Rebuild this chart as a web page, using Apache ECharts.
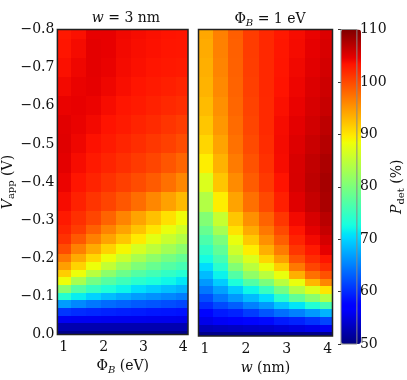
<!DOCTYPE html>
<html>
<head>
<meta charset="utf-8">
<script src="https://cdn.jsdelivr.net/npm/echarts@6/dist/echarts.min.js"></script>
<style>
html, body { margin: 0; padding: 0; background: #fff; }
#chart { width: 407px; height: 380px; }
</style>
</head>
<body>
<div id="chart"></div>
<script>
// grid rows: applied voltage (V), shared by both panels
var vRows = [0, -0.02, -0.04, -0.06, -0.08, -0.1, -0.12, -0.14, -0.16, -0.18, -0.2, -0.225,
    -0.25, -0.275, -0.3, -0.35, -0.4, -0.45, -0.5, -0.55, -0.6, -0.65, -0.7, -0.75, -0.8];
// grid columns
var phiCols = [1, 1.375, 1.75, 2.125, 2.5, 2.875, 3.25, 3.625, 4];   // Phi_B (eV), w = 3 nm
var wCols = [1, 1.375, 1.75, 2.125, 2.5, 2.875, 3.25, 3.625, 4];     // w (nm), Phi_B = 1 eV

// P_det (%) - one row per vRows entry, one value per column
var pPhi = [
    [50.5, 50.5, 50.5, 50.5, 50.5, 50.5, 50.5, 50.5, 50.5],
    [52.5, 52.5, 52.5, 52.5, 52.5, 52.5, 52.5, 52.5, 52.5],
    [56, 55.9, 55.9, 55.8, 55.7, 55.7, 55.6, 55.6, 55.5],
    [60.6, 60.1, 59.8, 59.5, 59.3, 59.1, 58.8, 58.7, 58.5],
    [66.7, 65.5, 64.5, 63.8, 63.3, 62.8, 62.4, 62, 61.6],
    [73.7, 71.5, 69.9, 68.6, 67.6, 66.7, 66, 65.4, 64.8],
    [80.9, 77.1, 74.8, 73.2, 71.9, 70.6, 69.6, 68.8, 68],
    [88.3, 83.2, 79.5, 77.2, 75.4, 74, 73, 72.1, 71.1],
    [91.5, 88.3, 84.4, 81.3, 78.9, 77.1, 75.8, 74.6, 73.6],
    [94.5, 91.2, 88.3, 85.2, 82.5, 80.2, 78.5, 77.1, 76],
    [97, 93.8, 90.9, 88.3, 85.7, 83.3, 81.3, 79.6, 78.3],
    [99.8, 96.5, 93.8, 91.3, 88.9, 86.6, 84.7, 82.8, 81.1],
    [101.5, 99, 96.5, 94.3, 92, 89.7, 87.6, 85.6, 84],
    [102.4, 100.8, 98.5, 96.3, 94.3, 92.2, 90.1, 88, 86.2],
    [103, 101.6, 100.2, 98.3, 96.2, 94.3, 92.4, 90.4, 88.5],
    [103.8, 102.5, 101.3, 100.3, 99.1, 97.7, 96, 94.4, 92.8],
    [104.4, 103.3, 102.4, 101.4, 100.6, 99.8, 98.8, 97.5, 96],
    [104.8, 103.8, 103, 102.3, 101.6, 100.9, 100.2, 99.2, 98.2],
    [105, 104.2, 103.5, 102.9, 102.3, 101.7, 101.1, 100.5, 99.8],
    [104.9, 104.5, 104, 103.4, 102.9, 102.4, 101.9, 101.3, 100.8],
    [104.5, 104.6, 104.4, 103.8, 103.3, 102.9, 102.5, 102.1, 101.7],
    [104, 104.5, 104.7, 104.2, 103.7, 103.3, 102.9, 102.6, 102.3],
    [103.6, 104.2, 104.8, 104.5, 103.9, 103.6, 103.3, 103.1, 102.9],
    [103.3, 103.9, 104.8, 104.6, 104, 103.7, 103.5, 103.3, 103.2],
    [103.1, 103.6, 104.6, 104.6, 104.1, 103.8, 103.6, 103.4, 103.3]
];
var pW = [
    [50.5, 50.5, 50.5, 50.5, 50.5, 50.5, 50.5, 50.5, 50.5],
    [53, 53.3, 53.5, 53.8, 54, 54.5, 55, 55.5, 56],
    [55.5, 56.2, 56.5, 57.5, 58, 59, 59.5, 60.5, 61.5],
    [57.5, 59, 59.5, 61, 62.5, 64, 65, 66.5, 68],
    [60, 61.8, 63, 65, 66.5, 69, 71, 73.5, 76],
    [62, 64.5, 66.5, 68.5, 70.5, 74, 78, 81, 84],
    [64.5, 67, 69.5, 72, 75, 79.5, 84, 87, 90],
    [66.5, 69.5, 73, 77, 80, 84.5, 88, 93, 96],
    [68.5, 71.8, 77, 81.5, 84.5, 88, 93.5, 97.5, 99.5],
    [70.5, 74, 80.5, 84.5, 88, 91.5, 97, 100.2, 101.8],
    [72.5, 76, 83.5, 87, 91, 94.5, 99.5, 101.8, 103.3],
    [74.5, 78, 86, 89.5, 93.5, 96.8, 101.2, 103, 104.7],
    [76.5, 80, 88, 91.8, 95.5, 98.6, 102.4, 104, 105.6],
    [78.5, 83, 90.2, 93.8, 97, 100, 103.3, 104.8, 106.4],
    [80.5, 85.5, 92, 95.5, 98.3, 101.2, 104, 105.5, 107],
    [84, 89.5, 94.3, 97.5, 100, 102.6, 105, 106.4, 107.8],
    [87, 92, 95.8, 98.7, 101, 103.4, 105.5, 106.8, 108],
    [89.5, 93.3, 96.8, 99.4, 101.5, 103.8, 105.4, 106.6, 107.7],
    [91, 94.3, 97.4, 99.9, 101.8, 103.9, 105.1, 106.2, 107.2],
    [92, 95, 97.8, 100.2, 102, 103.8, 104.8, 105.8, 106.8],
    [92.7, 95.5, 98.1, 100.4, 102, 103.6, 104.5, 105.5, 106.3],
    [93.2, 95.9, 98.3, 100.6, 102.1, 103.4, 104.3, 105.2, 106],
    [93.5, 96.2, 98.4, 100.7, 102.1, 103.3, 104.1, 104.9, 105.7],
    [93.7, 96.4, 98.5, 100.8, 102.1, 103.2, 103.9, 104.7, 105.4],
    [94, 96.5, 98.6, 100.8, 102.1, 103.1, 103.8, 104.5, 105.2]
];

var xTicks = [1, 2, 3, 4];
var vTicks = [0, -0.1, -0.2, -0.3, -0.4, -0.5, -0.6, -0.7, -0.8];
var cbarTicks = [50, 60, 70, 80, 90, 100, 110];

var FONT = 'DejaVu Serif';
var xMin = 0.84, xMax = 4.12, vMin = -0.8, vMax = 0;

// matplotlib "jet"
function jetColors(n) {
    function seg(p, t) {
        for (var k = 1; k < p.length; k++) {
            if (t <= p[k][0]) {
                var f = (t - p[k - 1][0]) / (p[k][0] - p[k - 1][0]);
                return p[k - 1][1] + f * (p[k][1] - p[k - 1][1]);
            }
        }
        return p[p.length - 1][1];
    }
    var R = [[0, 0], [0.35, 0], [0.66, 1], [0.89, 1], [1, 0.5]];
    var G = [[0, 0], [0.125, 0], [0.375, 1], [0.64, 1], [0.91, 0], [1, 0]];
    var B = [[0, 0.5], [0.11, 1], [0.34, 1], [0.65, 0], [1, 0]];
    var out = [];
    for (var i = 0; i < n; i++) {
        var t = i / (n - 1);
        out.push('rgb(' + Math.round(seg(R, t) * 255) + ',' + Math.round(seg(G, t) * 255) + ',' + Math.round(seg(B, t) * 255) + ')');
    }
    return out;
}

// cell borders halfway between grid points, outer ones at the axis limits
function edges(c, lo, hi) {
    var e = [lo];
    for (var i = 1; i < c.length; i++) e.push((c[i - 1] + c[i]) / 2);
    e.push(hi);
    return e;
}

function cellSeries(idx, cols, vals) {
    var xe = edges(cols, xMin, xMax);
    var ye = edges(vRows, vMax, vMin);
    var data = [];
    for (var i = 0; i < vRows.length; i++) {
        for (var j = 0; j < cols.length; j++) {
            data.push([cols[j], vRows[i], vals[i][j], j, i]);
        }
    }
    return {
        type: 'custom',
        xAxisIndex: idx,
        yAxisIndex: idx,
        data: data,
        encode: { x: 0, y: 1 },
        clip: true,
        silent: true,
        renderItem: function (params, api) {
            var j = api.value(3), i = api.value(4);
            var p0 = api.coord([xe[j], ye[i]]);
            var p1 = api.coord([xe[j + 1], ye[i + 1]]);
            var x0 = Math.round(Math.min(p0[0], p1[0])), x1 = Math.round(Math.max(p0[0], p1[0]));
            var y0 = Math.round(Math.min(p0[1], p1[1])), y1 = Math.round(Math.max(p0[1], p1[1]));
            return {
                type: 'rect',
                shape: { x: x0, y: y0, width: x1 - x0, height: y1 - y0 },
                style: { fill: api.visual('color'), stroke: null }
            };
        }
    };
}

var rich = {
    i: { fontFamily: FONT, fontSize: 14, fontStyle: 'italic', color: '#111' },
    s: { fontFamily: FONT, fontSize: 10, color: '#111', padding: [7, 0, 0, 0] },
    si: { fontFamily: FONT, fontSize: 10, fontStyle: 'italic', color: '#111', padding: [7, 0, 0, 0] },
    n: { fontFamily: FONT, fontSize: 14, color: '#111' }
};
var labelStyle = { fontFamily: FONT, fontSize: 14, color: '#111' };

function minus(v) { return String(v).replace('-', '\u2212'); }

var chart = echarts.init(document.getElementById('chart'));
var gridPos = { top: 29.5, height: 314.5 };

var option = {
    backgroundColor: '#fff',
    animation: false,
    title: [
        { text: '{i|w}{n| = 3 nm}', left: 121, top: 6, textAlign: 'center',
          textStyle: { fontWeight: 'normal', rich: rich } },
        { text: '{n|\u03A6}{si|B}{n| = 1 eV}', left: 265, top: 6, textAlign: 'center',
          textStyle: { fontWeight: 'normal', rich: rich } }
    ],
    grid: [
        { left: 54, width: 134, top: gridPos.top, height: gridPos.height, show: true, z: 3, borderColor: '#222', borderWidth: 1.5, backgroundColor: 'transparent' },
        { left: 198.5, width: 134, top: gridPos.top, height: gridPos.height, show: true, z: 3, borderColor: '#222', borderWidth: 1.5, backgroundColor: 'transparent' },
        { left: 341, width: 20, top: gridPos.top, height: gridPos.height, show: true, z: 3, borderColor: '#888', borderWidth: 1, backgroundColor: 'transparent' }
    ],
    xAxis: [
        { gridIndex: 0, type: 'value', min: xMin, max: xMax,
          axisLine: { show: false }, axisTick: { show: false }, splitLine: { show: false },
          axisLabel: Object.assign({ margin: 6, customValues: xTicks }, labelStyle),
          name: '{n|\u03A6}{si|B}{n| (eV)}', nameLocation: 'middle', nameGap: 23,
          nameTextStyle: { rich: rich } },
        { gridIndex: 1, type: 'value', min: xMin, max: xMax,
          axisLine: { show: false }, axisTick: { show: false }, splitLine: { show: false },
          axisLabel: Object.assign({ margin: 6, customValues: xTicks }, labelStyle),
          name: '{i|w}{n| (nm)}', nameLocation: 'middle', nameGap: 23,
          nameTextStyle: { rich: rich } },
        { gridIndex: 2, type: 'value', show: false }
    ],
    yAxis: [
        { gridIndex: 0, type: 'value', min: vMin, max: vMax, inverse: true,
          axisLine: { show: false }, axisTick: { show: false }, splitLine: { show: false },
          axisLabel: Object.assign({ margin: 3, customValues: vTicks,
              formatter: function (v) { return minus(v.toFixed(1)); } }, labelStyle),
          name: '{i|V}{s|app}{n| (V)}', nameLocation: 'middle', nameGap: 40,
          nameTextStyle: { rich: rich } },
        { gridIndex: 1, type: 'value', min: vMin, max: vMax, inverse: true,
          axisLine: { show: false }, axisTick: { show: false }, splitLine: { show: false },
          axisLabel: { show: false } },
        { gridIndex: 2, type: 'value', min: 50, max: 110, interval: 10, position: 'right',
          axisLine: { show: false }, splitLine: { show: false },
          axisTick: { show: true, inside: true, length: 3, lineStyle: { color: '#333' } },
          axisLabel: Object.assign({ margin: 3, customValues: cbarTicks }, labelStyle),
          name: '{i|P}{s|det}{n| (%)}', nameLocation: 'middle', nameGap: 30,
          nameTextStyle: { rich: rich } }
    ],
    visualMap: {
        type: 'continuous',
        min: 50, max: 110,
        dimension: 2,
        seriesIndex: [0, 1],
        calculable: false,
        hoverLink: false,
        padding: 0,
        left: 341, top: gridPos.top,
        itemWidth: 20, itemHeight: gridPos.height,
        text: null,
        z: 0,
        inRange: { color: jetColors(101) }
    },
    series: [
        cellSeries(0, phiCols, pPhi),
        cellSeries(1, wCols, pW)
    ]
};
chart.setOption(option);
</script>
</body>
</html>
